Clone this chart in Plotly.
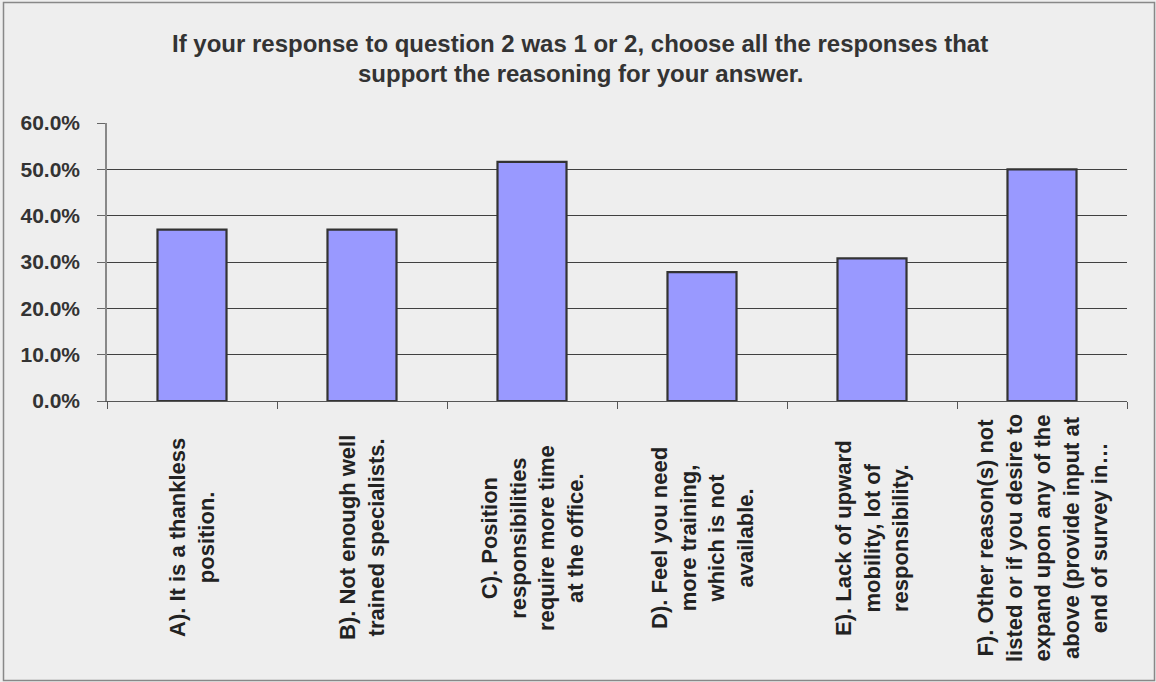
import plotly.graph_objects as go

# ---- data ----
categories = ["A", "B", "C", "D", "E", "F"]
category_labels = [
    "A). It is a thankless<br>position.",
    "B). Not enough well<br>trained specialists.",
    "C). Position<br>responsibilities<br>require more time<br>at the office.",
    "D). Feel you need<br>more training,<br>which is not<br>available.",
    "E). Lack of upward<br>mobility, lot of<br>responsibility.",
    "F). Other reason(s) not<br>listed or if you desire to<br>expand upon any of the<br>above (provide input at<br>end of survey in…",
]
values = [0.370, 0.370, 0.516, 0.278, 0.308, 0.500]
title_lines = [
    "If your response to question 2 was 1 or 2, choose all the responses that",
    "support the reasoning for your answer.",
]

# ---- layout geometry (pixels) ----
W, H = 1156, 682
L, R, T, B = 107, 29, 123, 281
PW, PH = W - L - R, H - T - B


def px_x(px):
    return (px - L) / PW


def px_y(py):
    return (H - B - py) / PH


FONT = "Liberation Sans, Arial, sans-serif"
TXT = "#333333"
BG = "#EEEEEE"

fig = go.Figure()
fig.add_trace(
    go.Bar(
        x=categories,
        y=values,
        marker=dict(color="#9999FF", line=dict(color="#333333", width=2.2)),
        hoverinfo="x+y",
    )
)

annotations = []
for cat, lab in zip(categories, category_labels):
    annotations.append(
        dict(
            x=cat, xref="x", y=px_y(538), yref="paper",
            text=lab, textangle=-90, align="center",
            xanchor="center", yanchor="middle", showarrow=False,
            font=dict(family=FONT, size=22, color="#222222", weight="bold"),
        )
    )
for i, line in enumerate(title_lines):
    annotations.append(
        dict(
            x=px_x(580), xref="paper", y=px_y(43 + 30 * i), yref="paper",
            text=line, xanchor="center", yanchor="middle", showarrow=False,
            font=dict(family=FONT, size=24, color=TXT, weight="bold"),
        )
    )

fig.update_layout(
    width=W, height=H,
    margin=dict(l=L, r=R, t=T, b=B, pad=0),
    paper_bgcolor=BG, plot_bgcolor=BG,
    bargap=0.594,
    showlegend=False,
    annotations=annotations,
    shapes=[
        dict(
            type="rect", xref="paper", yref="paper",
            x0=px_x(3.5), x1=px_x(1154.5), y0=px_y(680.5), y1=px_y(2.5),
            line=dict(color="#888888", width=1.5), fillcolor="rgba(0,0,0,0)",
            layer="below",
        )
    ],
)
fig.update_xaxes(
    type="category",
    showticklabels=False,
    ticks="outside", tickson="boundaries", ticklen=7, tickcolor="#555555",
    showline=True, linecolor="#555555", linewidth=1,
    showgrid=False, zeroline=False,
)
fig.update_yaxes(
    range=[0, 0.6], dtick=0.1, tickformat=".1%",
    tickfont=dict(family=FONT, size=21, color=TXT, weight="bold"),
    ticks="outside", ticklen=8, tickcolor="#666666",
    ticklabelstandoff=13,
    showline=True, linecolor="#888888", linewidth=1.5,
    showgrid=True, gridcolor="#404040", gridwidth=1,
    zeroline=False,
)

fig.write_html("out.html")
